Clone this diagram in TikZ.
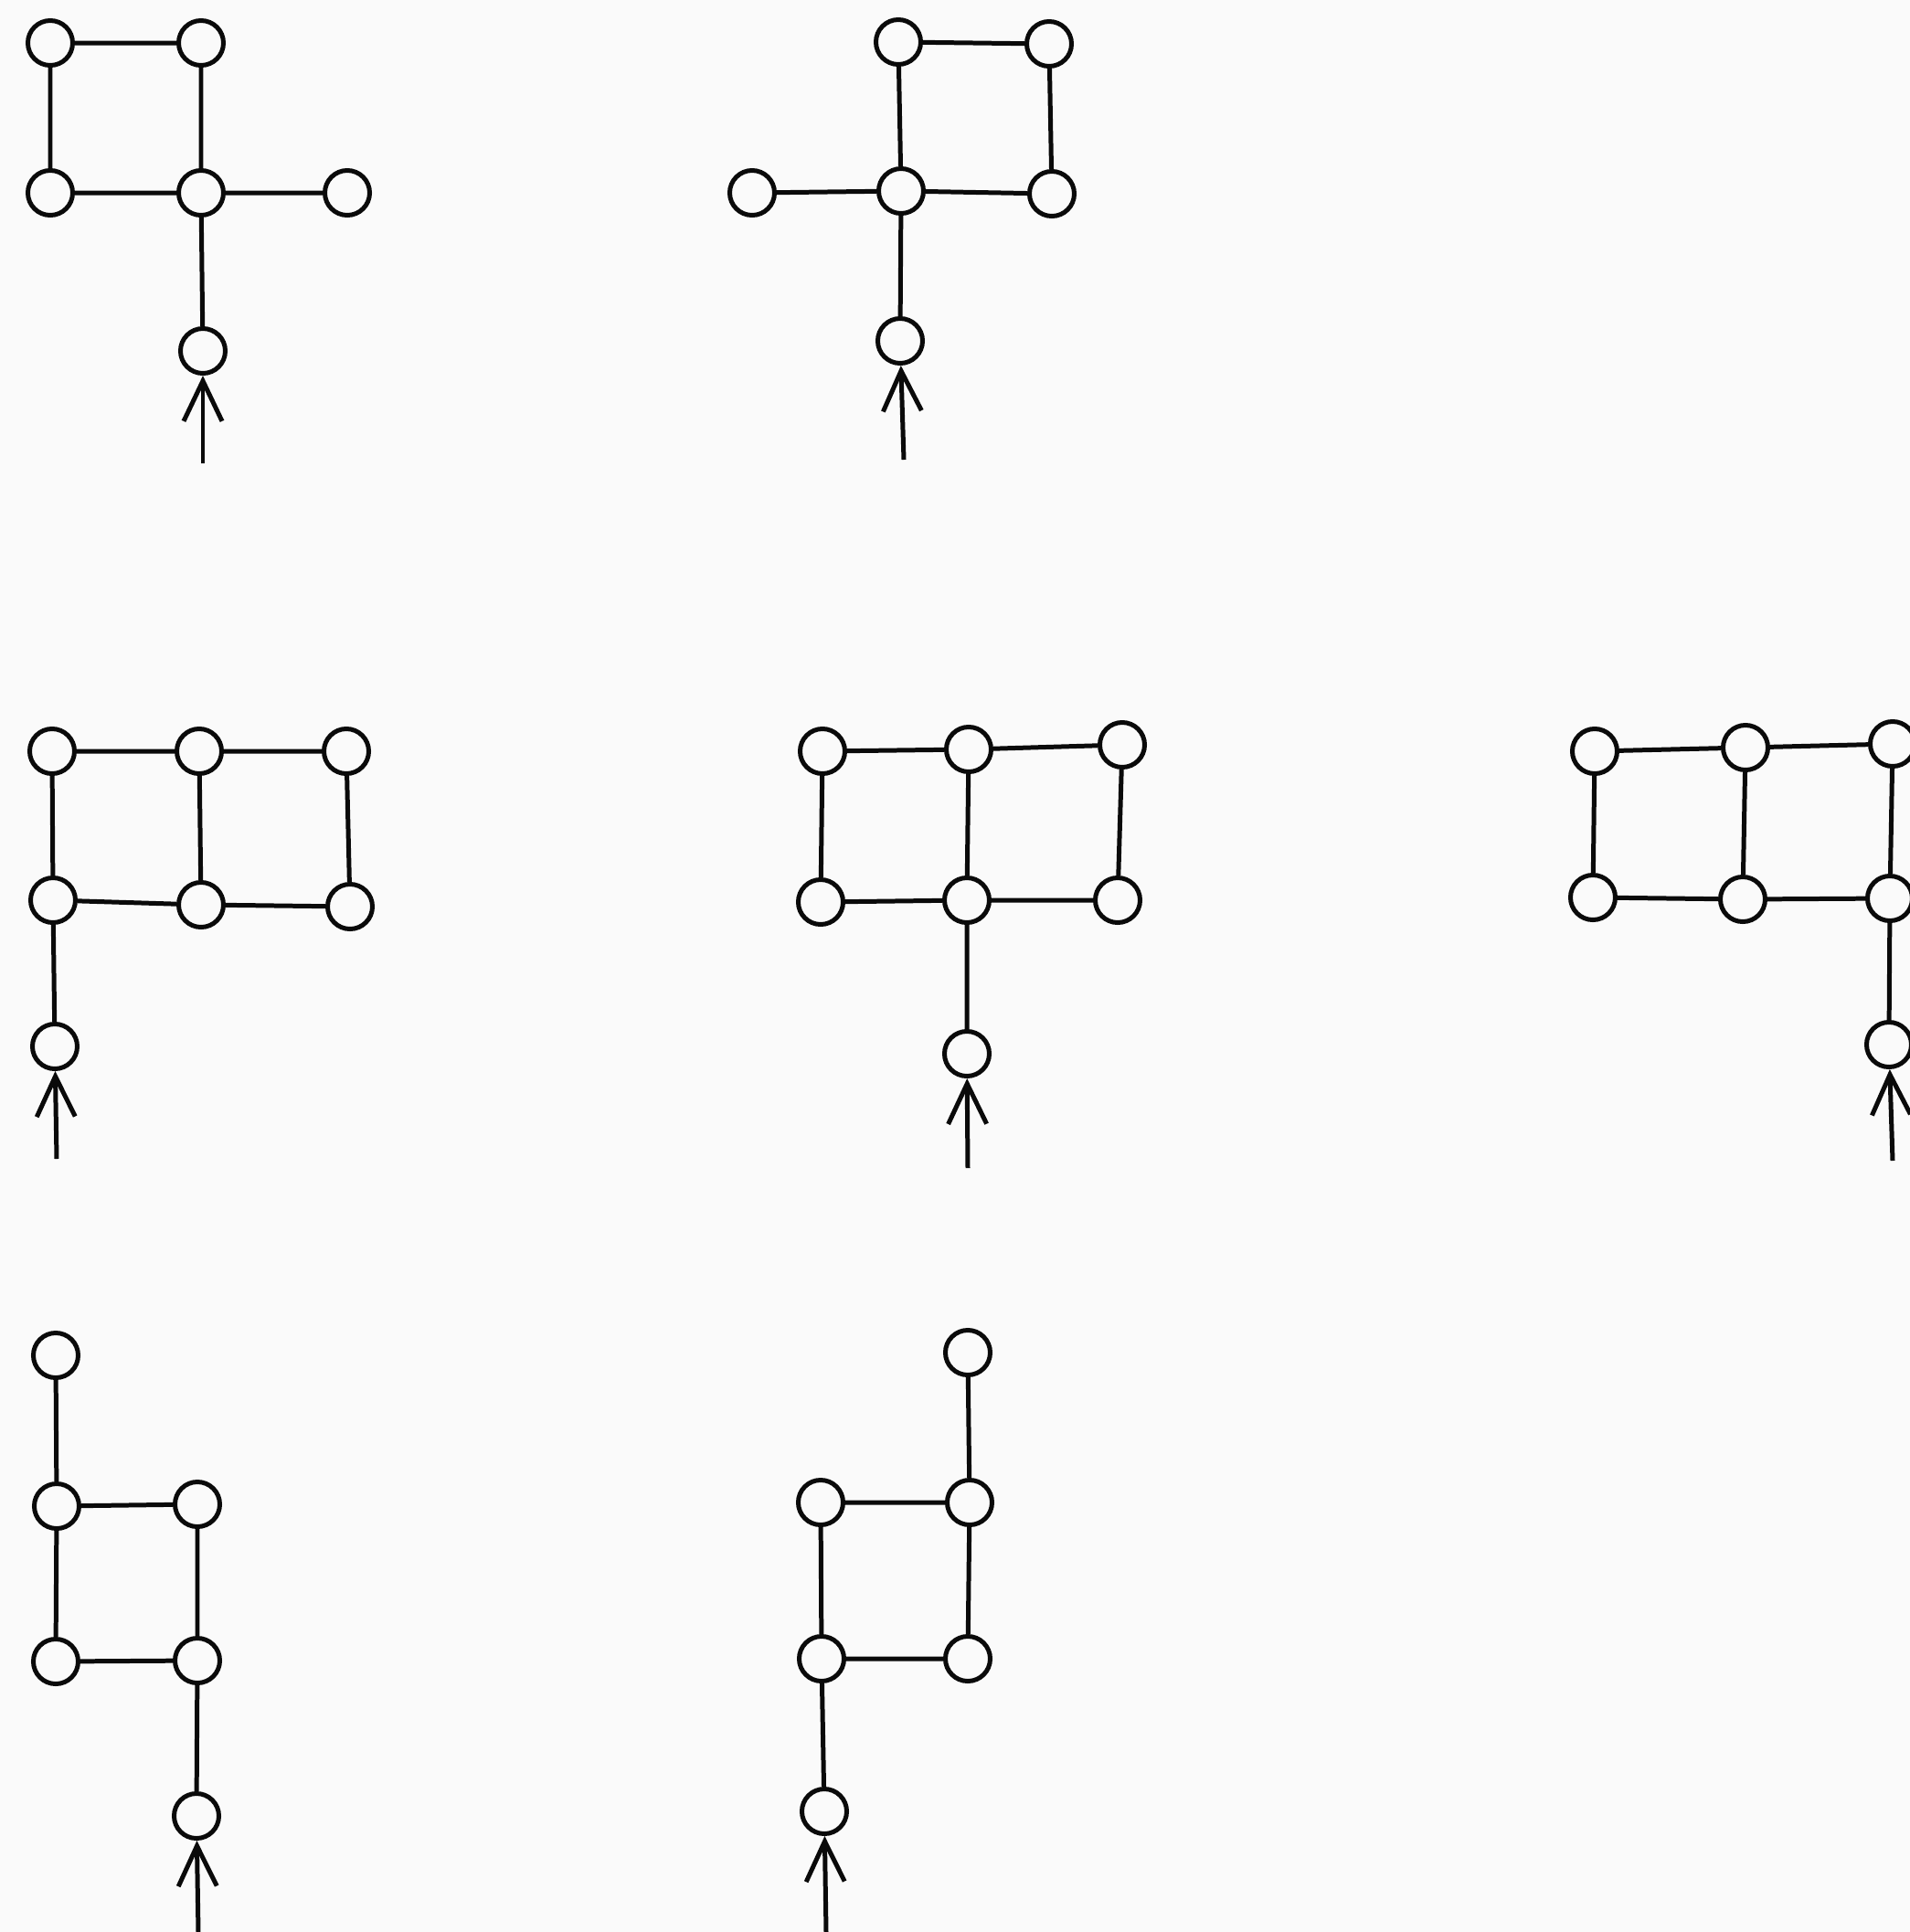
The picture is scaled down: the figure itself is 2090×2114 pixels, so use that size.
\documentclass[tikz,border=0pt]{standalone}
\usetikzlibrary{arrows.meta}
\definecolor{paper}{RGB}{250,250,250}
\definecolor{ink}{RGB}{10,10,10}
\tikzset{
  v/.style={circle,draw=ink,line width=1.42pt,minimum size=0.49cm,inner sep=0pt,fill=paper},
  e/.style={draw=ink,line width=1.42pt},
  inarrow/.style={draw=ink,line width=1.42pt,-{Straight Barb[length=0.44cm,width=0.42cm,line width=1.42pt]}}
}
\begin{document}
\begin{tikzpicture}[x=0.01cm,y=-0.01cm]
\fill[paper] (0,0) rectangle (2090,2114);
\useasboundingbox (0,0) rectangle (2090,2114);
% Graph 1
\node[v] (a1) at (55,47) {};
\node[v] (b1) at (220,47) {};
\node[v] (c1) at (55,211) {};
\node[v] (d1) at (220,211) {};
\node[v] (e1) at (380,211) {};
\node[v] (f1) at (222,384) {};
\coordinate (s1) at (222,507);
\draw[e] (a1)--(b1) (a1)--(c1) (b1)--(d1) (c1)--(d1) (d1)--(e1) (d1)--(f1);
\draw[inarrow] (s1)--(f1);
% Graph 2
\node[v] (a2) at (983,46) {};
\node[v] (b2) at (1148,48) {};
\node[v] (c2) at (823,211) {};
\node[v] (d2) at (986,209) {};
\node[v] (e2) at (1151,212) {};
\node[v] (f2) at (985,373) {};
\coordinate (s2) at (989,503);
\draw[e] (a2)--(b2) (a2)--(d2) (b2)--(e2) (c2)--(d2) (d2)--(e2) (d2)--(f2);
\draw[inarrow] (s2)--(f2);
% Graph 3
\node[v] (tl3) at (57,822) {};
\node[v] (tm3) at (218,822) {};
\node[v] (tr3) at (379,822) {};
\node[v] (bl3) at (58,985) {};
\node[v] (bm3) at (220,990) {};
\node[v] (br3) at (383,992) {};
\node[v] (f3) at (60,1145) {};
\coordinate (s3) at (62,1268);
\draw[e] (tl3)--(tm3) (tm3)--(tr3) (tl3)--(bl3) (tm3)--(bm3) (tr3)--(br3) (bl3)--(bm3) (bm3)--(br3) (bl3)--(f3);
\draw[inarrow] (s3)--(f3);
% Graph 4
\node[v] (tl4) at (900,822) {};
\node[v] (tm4) at (1060,820) {};
\node[v] (tr4) at (1228,815) {};
\node[v] (bl4) at (898,987) {};
\node[v] (bm4) at (1058,985) {};
\node[v] (br4) at (1223,985) {};
\node[v] (f4) at (1058,1153) {};
\coordinate (s4) at (1059,1278);
\draw[e] (tl4)--(tm4) (tm4)--(tr4) (tl4)--(bl4) (tm4)--(bm4) (tr4)--(br4) (bl4)--(bm4) (bm4)--(br4) (bm4)--(f4);
\draw[inarrow] (s4)--(f4);
% Graph 5
\node[v] (tl5) at (1745,822) {};
\node[v] (tm5) at (1910,818) {};
\node[v] (tr5) at (2071,814) {};
\node[v] (bl5) at (1743,982) {};
\node[v] (bm5) at (1907,984) {};
\node[v] (br5) at (2068,983) {};
\node[v] (f5) at (2067,1143) {};
\coordinate (s5) at (2071,1270);
\draw[e] (tl5)--(tm5) (tm5)--(tr5) (tl5)--(bl5) (tm5)--(bm5) (tr5)--(br5) (bl5)--(bm5) (bm5)--(br5) (br5)--(f5);
\draw[inarrow] (s5)--(f5);
% Graph 6
\node[v] (t6) at (61,1483) {};
\node[v] (ml6) at (62,1648) {};
\node[v] (mr6) at (216,1646) {};
\node[v] (bl6) at (61,1818) {};
\node[v] (br6) at (216,1817) {};
\node[v] (f6) at (215,1987) {};
\coordinate (s6) at (217,2114);
\draw[e] (t6)--(ml6) (ml6)--(mr6) (ml6)--(bl6) (mr6)--(br6) (bl6)--(br6) (br6)--(f6);
\draw[inarrow] (s6)--(f6);
% Graph 7
\node[v] (t7) at (1059,1480) {};
\node[v] (ml7) at (898,1644) {};
\node[v] (mr7) at (1061,1644) {};
\node[v] (bl7) at (899,1815) {};
\node[v] (br7) at (1059,1815) {};
\node[v] (f7) at (902,1982) {};
\coordinate (s7) at (904,2114);
\draw[e] (t7)--(mr7) (ml7)--(mr7) (ml7)--(bl7) (mr7)--(br7) (bl7)--(br7) (bl7)--(f7);
\draw[inarrow] (s7)--(f7);
\end{tikzpicture}
\end{document}
